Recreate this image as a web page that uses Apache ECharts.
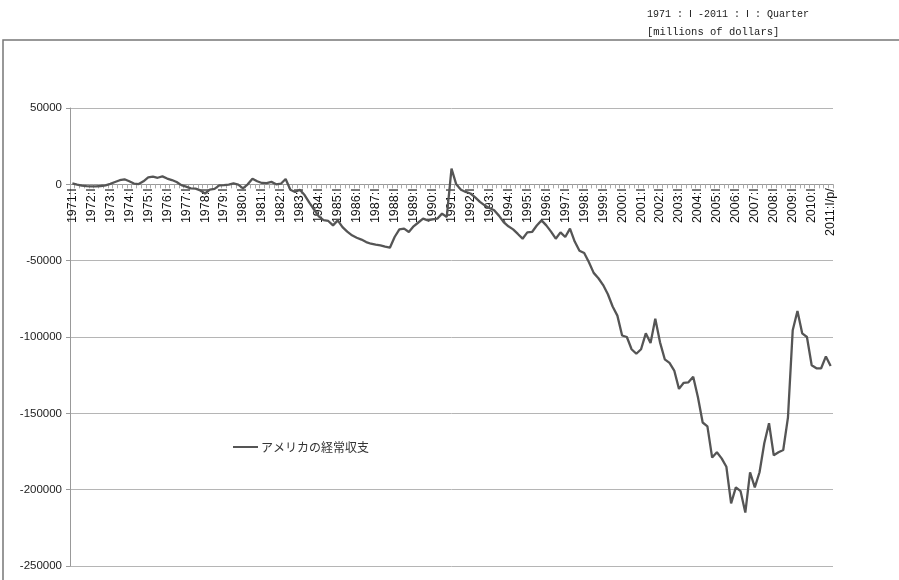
<!DOCTYPE html>
<html>
<head>
<meta charset="utf-8">
<script src="https://cdn.jsdelivr.net/npm/echarts@6/dist/echarts.min.js"></script>
<style>
  html, body { margin: 0; padding: 0; background: #fff; }
  #chart { width: 899px; height: 580px; }
</style>
</head>
<body>
<div id="chart"></div>
<script>
// 1971:I - 2011:I quarterly, millions of dollars
const firstYear = 1971
const lastYear = 2011
const quarterNames = ['I', 'II', 'III', 'IV']
const yTicks = [-250000, -200000, -150000, -100000, -50000, 0, 50000]
const seriesName = 'アメリカの経常収支'

const balance = [
  600, -200, -900, -1200, // 1971
  -1400, -1300, -1100, -700, // 1972
  300, 1500, 2700, 3300, // 1973
  2000, 500, 200, 2000, // 1974
  4500, 5000, 4300, 5200, // 1975
  3800, 2800, 1500, -500, // 1976
  -1500, -2600, -2800, -4000, // 1977
  -6000, -3500, -3000, -700, // 1978
  -500, -200, 600, -200, // 1979
  -2600, 0, 3700, 2000, // 1980
  900, 800, 1600, 0, // 1981
  400, 3500, -3500, -5000, // 1982
  -3500, -7000, -12000, -16500, // 1983
  -21000, -23500, -24000, -26900, // 1984
  -23600, -28000, -31000, -33400, // 1985
  -35000, -36200, -37800, -38900, // 1986
  -39500, -40000, -40800, -41500, // 1987
  -34500, -29500, -29000, -31200, // 1988
  -27500, -25000, -22500, -23600, // 1989
  -23000, -22500, -19200, -21400, // 1990
  10300, 0, -3500, -5000, // 1991
  -6000, -8500, -11500, -13800, // 1992
  -15500, -17000, -20500, -24700, // 1993
  -27500, -29500, -32500, -35600, // 1994
  -31500, -31200, -27000, -23600, // 1995
  -26900, -31000, -35600, -31500, // 1996
  -34500, -29000, -37500, -43500, // 1997
  -45000, -51000, -58000, -61500, // 1998
  -66000, -72000, -80000, -86000, // 1999
  -99000, -100000, -108000, -111000, // 2000
  -108000, -97600, -104000, -88000, // 2001
  -103500, -114600, -117000, -122000, // 2002
  -134000, -130000, -129700, -126000, // 2003
  -139500, -156000, -158500, -179000, // 2004
  -175500, -179500, -185000, -209000, // 2005
  -198500, -201000, -215000, -188600, // 2006
  -198500, -188600, -169600, -156500, // 2007
  -177500, -175500, -174000, -152600, // 2008
  -95600, -83000, -97600, -100000, // 2009
  -118500, -120500, -120500, -112700, // 2010
  -119000 // 2011
]

// category labels like 1971:I, 1971:II ... 2011:I/p/
const quarters = []
for (let y = firstYear; y <= lastYear; y++) {
  for (let q = 0; q < 4; q++) {
    if (y === lastYear) { quarters.push(y + ':I/p/'); break }
    quarters.push(y + ':' + quarterNames[q])
  }
}

const font = '"Noto Sans CJK JP", "Noto Sans", sans-serif'
const latin = '"Liberation Sans", Arial, sans-serif'
const mono = '"Liberation Mono", "DejaVu Sans Mono", monospace'

const gridTop = 108
const gridBottom = 14
const chartHeight = 580
// put the category axis on the zero line (labels included)
const plotH = chartHeight - gridTop - gridBottom
const zeroFromBottom = plotH * (0 - yTicks[0]) / (yTicks[yTicks.length - 1] - yTicks[0])

const chart = echarts.init(document.getElementById('chart'))

const option = {
  animation: false,
  backgroundColor: '#fff',
  textStyle: { fontFamily: font },
  grid: { left: 70, right: 66, top: gridTop, bottom: gridBottom, containLabel: false },
  legend: {
    left: 228,
    top: 436,
    icon: 'rect',
    itemWidth: 25,
    itemHeight: 2,
    itemGap: 4,
    textStyle: { fontSize: 12, color: '#333', fontFamily: font, padding: [0, 0, 0, -2] },
    data: [seriesName]
  },
  graphic: [
    {
      type: 'rect',
      silent: true,
      shape: { x: 3, y: 40, width: 930, height: 580 },
      style: { fill: 'none', stroke: '#777', lineWidth: 1.5 }
    },
    {
      type: 'text',
      left: 647,
      top: 9,
      style: { text: '1971 : Ⅰ -2011 : Ⅰ : Quarter', fill: '#222', font: '10px ' + mono }
    },
    {
      type: 'text',
      left: 647,
      top: 27,
      style: { text: '[millions of dollars]', fill: '#222', font: '10.5px ' + mono }
    }
  ],
  xAxis: {
    type: 'category',
    data: quarters,
    boundaryGap: true,
    offset: -zeroFromBottom,
    axisLine: { onZero: false, lineStyle: { color: '#999', width: 1 } },
    axisTick: { show: true, interval: 0, length: 4, lineStyle: { color: '#aaa' } },
    axisLabel: {
      interval: 3,
      rotate: 90,
      margin: 4,
      fontSize: 12.5,
      color: '#111',
      fontFamily: latin
    },
    splitLine: { show: false }
  },
  yAxis: {
    type: 'value',
    min: yTicks[0],
    max: yTicks[yTicks.length - 1],
    interval: 50000,
    axisLine: { show: true, lineStyle: { color: '#999' } },
    axisTick: { show: true, length: 4, lineStyle: { color: '#999' } },
    axisLabel: {
      fontSize: 11.5,
      color: '#222',
      margin: 8,
      fontFamily: latin,
      formatter: v => String(v)
    },
    splitLine: { show: true, lineStyle: { color: '#b5b5b5', width: 1 } }
  },
  series: [
    {
      name: seriesName,
      type: 'line',
      data: balance,
      showSymbol: false,
      symbol: 'none',
      color: '#555',
      lineStyle: { color: '#555', width: 2.3 }
    }
  ]
}
chart.setOption(option)
</script>
</body>
</html>
